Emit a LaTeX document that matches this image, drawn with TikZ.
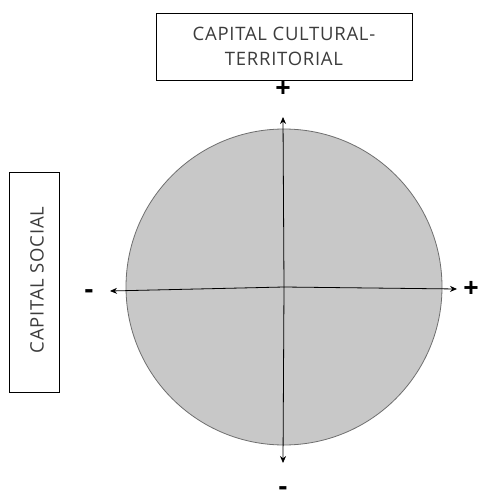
\documentclass[tikz,border=0pt]{standalone}
\usepackage{fontspec}
\setmainfont{Open Sans}
\newfontfamily\lblfont[LetterSpace=4]{Open Sans}
\usetikzlibrary{arrows.meta}
\definecolor{circfill}{RGB}{200,200,200}
\definecolor{circline}{RGB}{110,110,110}
\definecolor{txtgray}{RGB}{60,60,60}
\tikzset{
  labelbox/.style={draw=black, line width=0.8pt, fill=white, inner sep=0pt},
  axis/.style={draw=black, line width=0.8pt, -{Stealth[length=7pt,width=6pt]}},
  sign/.style={font=\fontsize{27}{27}\selectfont\bfseries, inner sep=0pt},
  lbl/.style={font=\lblfont\fontsize{18.5}{25}\selectfont, text=txtgray, align=center, inner sep=0pt}
}
\begin{document}
\begin{tikzpicture}[x=1pt,y=-1pt]
\useasboundingbox (0,0) rectangle (478,503);
\node[labelbox, minimum width=256pt, minimum height=67pt] (top) at (284,46.5) {};
\node[lbl] (toptext) at (284,46) {CAPITAL CULTURAL-\\TERRITORIAL};
\node[labelbox, minimum width=50pt, minimum height=220pt] (left) at (34,282) {};
\node[lbl, rotate=90] (lefttext) at (37,280) {CAPITAL SOCIAL};
\node[draw=circline, fill=circfill, line width=0.8pt, circle, minimum size=316pt, inner sep=0pt] (c) at (284,287) {};
\coordinate (vt) at (283,117);
\coordinate (vb) at (283,463);
\coordinate (hl) at (110,291);
\coordinate (hr) at (457,289);
\draw[axis] (c.center) -- (vt);
\draw[axis] (c.center) -- (vb);
\draw[axis] (c.center) -- (hl);
\draw[axis] (c.center) -- (hr);
\node[sign] (pt) at (283,89) {+};
\node[sign] (pr) at (471,289) {+};
\node[sign] (ml) at (89,294) {-};
\node[sign] (mb) at (283,491) {-};
\end{tikzpicture}
\end{document}
